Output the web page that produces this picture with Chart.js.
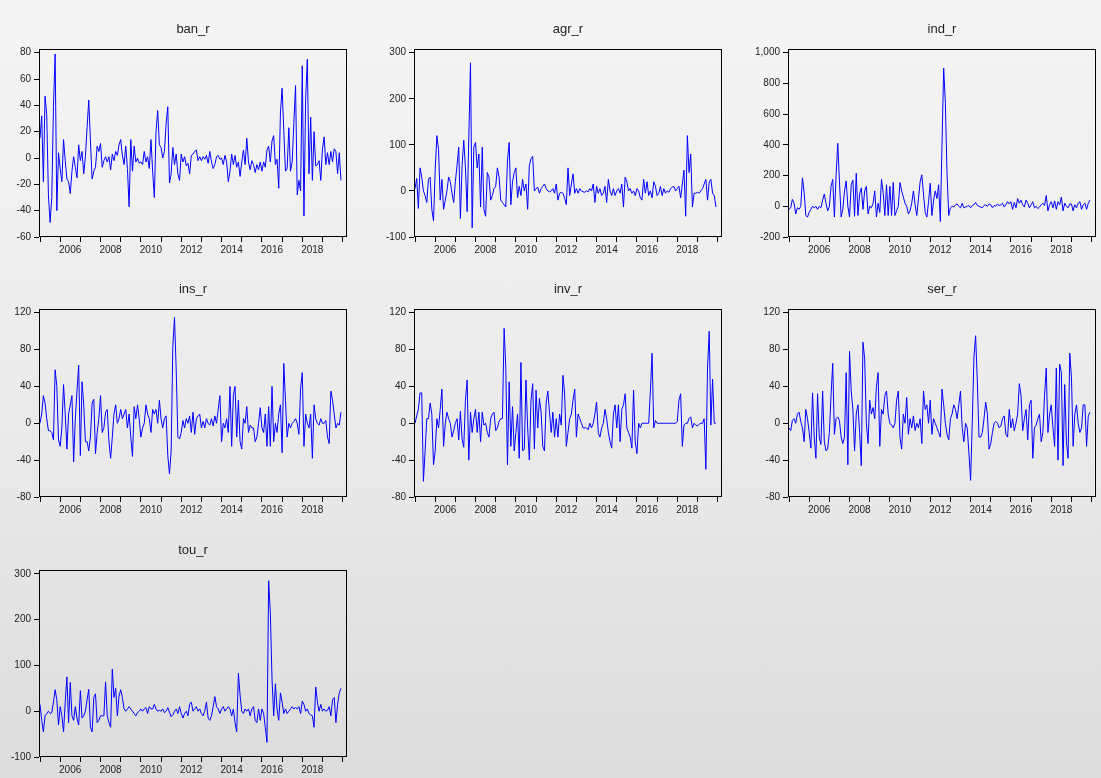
<!DOCTYPE html>
<html>
<head>
<meta charset="utf-8">
<script src="https://cdn.jsdelivr.net/npm/chart.js@4.4.1/dist/chart.umd.min.js"></script>
<style>
html,body{margin:0;padding:0;width:1101px;height:778px;overflow:hidden;
  background:linear-gradient(to bottom,#f5f5f5 0%,#e9e9e9 60%,#dcdcdc 100%);}
canvas{position:absolute;}
</style>
</head>
<body>
<script>
// ---------- data (monthly, 2005m01 .. 2019m12) ----------
const tickYears  = [2005,2006,2007,2008,2009,2010,2011,2012,2013,2014,2015,2016,2017,2018,2019,2020];
const labelYears = [2006,2008,2010,2012,2014,2016,2018];

const ban_r = [
 15,32,-18,47,33,-28,-49,-30,39,79,-40,4,
 -8,-18,14,-2,-16,-18,-27,-10,1,-7,-15,10,
 -2,5,-12,1,23,44,13,-16,-10,-7,9,5,
 11,-7,-2,1,-3,1,-9,3,-2,5,2,10,
 14,2,-5,9,-8,-37,14,-10,9,-3,0,-4,
 -3,-5,5,-3,1,-8,14,-10,-30,20,36,10,
 8,0,5,26,39,-19,-12,8,-5,3,-12,-17,
 3,-3,1,-6,-4,-12,2,3,5,6,-2,1,
 -2,1,-1,2,-4,5,-3,-8,-5,1,2,-1,
 0,-5,2,-3,-18,-10,3,-5,2,-7,-3,-14,
 -3,6,-5,15,-3,-9,-2,-5,-11,-5,-9,-3,
 -10,-3,-7,6,9,-3,13,17,-5,-1,-23,34,
 53,21,-10,-8,23,-10,-3,27,55,-28,-17,-25,
 70,-44,45,75,-12,31,-17,20,-6,-5,-2,-17,
 7,16,-5,4,-5,5,-3,7,5,-12,4,-17];

const agr_r = [
 5,27,-38,50,30,0,-10,-25,25,30,-40,-65,
 45,120,90,-20,25,-40,-20,0,30,20,-5,-25,
 20,55,95,-60,55,110,50,-45,115,278,-80,95,
 105,50,80,-35,95,-40,-55,40,30,-20,-10,5,
 10,50,30,-20,-25,-30,-35,65,105,-30,20,40,
 50,-15,10,-10,25,0,15,-40,55,70,75,0,
 5,8,-5,5,10,15,5,0,-2,0,5,-5,
 15,-20,-5,-3,-5,-15,-30,50,-10,15,37,-5,
 5,-5,5,0,-2,-3,0,-2,5,0,15,-25,
 10,-5,5,-10,-5,10,-25,25,0,-10,5,-10,
 0,5,-5,15,-35,30,20,0,5,-5,0,-10,
 5,0,-15,-20,25,-5,20,-10,0,-15,20,10,
 -10,-5,10,-10,5,-5,0,-3,5,8,10,0,
 5,10,-15,15,45,-55,120,40,80,-35,-5,-5,
 -3,-5,0,5,15,25,-20,20,25,-5,-10,-35];

const ind_r = [
 -20,-10,45,20,-50,-10,-20,0,185,90,-60,-70,
 -40,-20,0,-10,0,-20,0,-10,40,80,20,-30,
 0,130,175,-70,200,410,165,-70,-20,100,165,0,
 -70,140,170,-65,215,-60,80,120,-20,100,130,-50,
 0,-10,20,100,-70,20,-40,175,90,-60,140,-60,
 130,-60,155,-60,-30,0,155,100,60,20,0,-50,
 -30,20,100,10,-60,50,160,205,80,-40,-70,30,
 150,-60,40,100,50,140,-100,400,900,670,210,-60,
 -10,0,-5,10,15,0,-10,20,-10,-5,0,5,
 -10,5,10,25,5,0,-5,-10,5,10,0,15,
 10,-10,5,0,15,5,10,20,-5,10,30,15,
 30,-20,25,-10,50,20,40,10,-5,40,20,-10,
 10,30,-10,0,-15,-5,10,20,5,70,-30,10,
 30,-10,35,-20,30,10,60,-30,20,0,-10,15,
 15,-30,10,-10,20,30,-20,10,20,-20,20,40];

const ins_r = [
 0,10,30,22,5,-8,-8,-10,-18,58,40,-18,
 -25,-5,42,10,-28,10,20,30,-42,5,35,63,
 -35,45,20,-20,-20,-30,-15,22,26,-33,-10,5,
 30,-10,-5,12,15,-20,-38,-15,10,20,0,5,
 15,5,10,15,-5,10,-15,-36,18,5,20,5,
 -15,-5,0,20,10,5,-10,15,10,15,0,25,
 5,-5,5,8,-35,-55,-30,83,115,58,-15,-17,
 -10,3,-5,5,0,8,-10,12,-12,5,8,10,
 -5,2,-5,5,0,-2,5,-3,8,0,15,30,
 -20,0,-5,5,-10,40,-25,30,40,-15,25,-20,
 -28,5,0,18,-10,-2,-5,-5,-20,-15,0,17,
 -5,-10,10,-25,18,-25,40,-20,0,-10,10,20,
 -32,65,25,-15,0,-5,0,2,5,0,-12,38,
 55,-25,10,0,-5,10,-38,20,5,0,-2,5,
 0,0,3,-15,-22,35,25,10,-5,0,-2,12];

const inv_r = [
 0,8,15,33,33,-63,-30,5,5,22,10,-45,
 -30,5,-5,15,37,-25,0,12,5,0,-15,-8,
 0,5,-18,13,-17,-26,25,47,-40,12,-10,5,
 15,-10,12,-20,12,-2,0,-10,-15,5,10,12,
 -8,-5,2,5,5,103,60,-45,45,-25,18,-30,
 -10,10,-38,66,-30,-28,47,-5,-40,25,43,-28,
 36,-5,27,12,-25,-30,22,35,12,-10,12,-15,
 5,-15,10,-2,52,32,-25,-10,5,10,25,37,
 -15,10,5,0,-5,-5,-5,-7,0,-5,0,10,
 23,-10,-15,-5,0,15,5,-10,-20,-27,10,20,
 -5,20,-20,15,20,32,-5,-10,-15,-27,36,-20,
 -33,0,-5,0,0,0,0,0,35,76,-5,3,
 0,0,0,0,0,0,0,0,0,0,0,0,
 2,25,32,-25,-2,0,0,5,7,-5,0,-2,
 -3,-1,0,0,5,-50,60,100,-2,48,0,0];

const ser_r = [
 -5,-8,3,5,0,10,12,2,-5,-20,15,5,
 -10,-27,33,-15,-38,32,-15,-23,35,-20,-30,-28,
 -10,30,65,-12,5,7,3,-15,-22,-15,55,-45,
 78,35,15,-30,10,20,-10,-46,88,70,0,-22,
 25,10,17,5,40,55,-25,15,10,30,35,10,
 0,-2,-5,0,25,35,-15,-28,10,0,28,-12,
 5,-5,8,-8,0,-5,5,-22,35,15,20,0,
 25,-12,5,0,-5,-10,-15,37,20,0,-12,-18,
 5,10,20,15,5,20,35,-5,-20,0,-5,-32,
 -62,0,72,95,46,-15,-15,-10,5,23,10,-28,
 -22,-10,0,2,0,-5,-3,5,8,-12,-15,15,
 -5,5,-8,0,10,43,30,-8,5,15,-18,20,
 25,-38,-5,-2,5,10,-20,-10,30,60,-10,10,
 20,-5,-25,60,-40,64,55,-46,42,-20,-38,76,
 50,-25,10,20,0,-10,-5,20,20,-25,8,12];

const tou_r = [
 15,-20,-45,-10,-5,0,-5,-3,20,47,25,-30,
 10,-10,-45,20,75,-25,63,-10,-20,10,-15,-30,
 45,-15,-10,0,25,48,-35,-45,30,38,-25,-20,
 -10,-10,-10,64,-10,-25,-35,92,30,50,-10,33,
 47,30,5,0,5,10,5,0,-5,-10,-3,0,
 5,0,5,8,-5,10,5,5,15,5,0,2,
 0,5,-3,0,8,-2,-12,-8,0,5,-5,10,
 -5,-15,-5,0,-10,15,20,0,5,10,0,5,
 -5,-10,0,20,-15,-20,-10,10,32,10,5,-5,
 5,10,0,5,10,5,-10,5,-25,-45,83,35,
 0,-5,5,0,5,-10,5,10,-20,-25,5,-20,
 5,-5,-35,-68,285,215,70,-10,60,5,-20,40,
 20,-5,5,-5,0,5,10,5,8,5,10,-5,
 22,15,0,5,-5,-8,-10,-35,53,20,0,15,
 0,5,0,2,10,-10,25,30,-25,15,40,50];

const banTicks = [-60,-40,-20,0,20,40,60,80];
const agrTicks = [-100,0,100,200,300];
const indTicks = [-200,0,200,400,600,800,1000];
const insTicks = [-80,-40,0,40,80,120];
const invTicks = [-80,-40,0,40,80,120];
const serTicks = [-80,-40,0,40,80,120];
const touTicks = [-100,0,100,200,300];

// ---------- layout ----------
const FONT = 'Liberation Sans, Arial, sans-serif';
const panels = [
  {title:'ban_r', data:ban_r, ticks:banTicks, top:82.8,  plotLeft:39,  plotTop:49,  yW:39, h:188},
  {title:'agr_r', data:agr_r, ticks:agrTicks, top:308,   plotLeft:414, plotTop:49,  yW:39, h:188},
  {title:'ind_r', data:ind_r, ticks:indTicks, top:1024,  plotLeft:788, plotTop:49,  yW:43, h:188},
  {title:'ins_r', data:ins_r, ticks:insTicks, top:124,   plotLeft:39,  plotTop:309, yW:39, h:188},
  {title:'inv_r', data:inv_r, ticks:invTicks, top:124,   plotLeft:414, plotTop:309, yW:39, h:188},
  {title:'ser_r', data:ser_r, ticks:serTicks, top:124,   plotLeft:788, plotTop:309, yW:43, h:188},
  {title:'tou_r', data:tou_r, ticks:touTicks, top:308.5, plotLeft:39,  plotTop:570, yW:39, h:187}
];
const PLOT_W = 308, TITLE_H = 49, XAXIS_H = 25, RIGHT_PAD = 5;

const frameAndTitle = {
  id: 'frameAndTitle',
  afterDraw(chart, args, opts) {
    const {ctx, chartArea:a} = chart;
    ctx.save();
    ctx.strokeStyle = '#000';
    ctx.lineWidth = 1;
    ctx.strokeRect(Math.round(a.left) + 0.5, Math.round(a.top) + 0.5,
                   Math.round(a.right - a.left) - 1, Math.round(a.bottom - a.top) - 1);
    ctx.fillStyle = '#222';
    ctx.font = '13px ' + FONT;
    ctx.textAlign = 'center';
    ctx.textBaseline = 'middle';
    ctx.fillText(opts.text, (a.left + a.right) / 2, a.top - 20);
    ctx.restore();
  }
};

panels.forEach((p, k) => {
  const cv = document.createElement('canvas');
  const w = p.yW + PLOT_W + RIGHT_PAD;
  const h = TITLE_H + p.h + XAXIS_H;
  cv.width = w; cv.height = h;
  cv.style.left = (p.plotLeft - p.yW) + 'px';
  cv.style.top = (p.plotTop - TITLE_H) + 'px';
  cv.style.width = w + 'px'; cv.style.height = h + 'px';
  document.body.appendChild(cv);

  const pts = p.data.map((v, i) => ({x: i, y: v}));
  const yearTicks = tickYears.map(y => ({value: (y - 2005) * 12}));

  new Chart(cv, {
    type: 'line',
    data: { datasets: [{ data: pts, borderColor: '#0000ff', borderWidth: 1,
      pointRadius: 0, tension: 0, fill: false }] },
    plugins: [frameAndTitle],
    options: {
      responsive: false, animation: false, devicePixelRatio: 1,
      layout: { padding: { top: TITLE_H, right: RIGHT_PAD, left: 0, bottom: 0 } },
      plugins: { legend: {display:false}, tooltip: {enabled:false}, title: {display:false},
                 frameAndTitle: { text: p.title } },
      scales: {
        x: {
          type: 'linear', min: -0.6, max: 182.6,
          afterBuildTicks: s => { s.ticks = yearTicks.map(t => ({value: t.value})); },
          afterFit: s => { s.height = XAXIS_H; },
          border: { display: false },
          grid: { drawOnChartArea: false, drawTicks: true, tickLength: 5, color: '#000', tickColor: '#000' },
          ticks: {
            autoSkip: false, maxRotation: 0, minRotation: 0, padding: 2, labelOffset: 10,
            color: '#222', font: { family: FONT, size: 10 },
            callback: v => { const yr = 2005 + v / 12; return labelYears.includes(yr) ? String(yr) : ''; }
          }
        },
        y: {
          type: 'linear', min: p.ticks[0], max: p.top,
          afterBuildTicks: s => { s.ticks = p.ticks.map(v => ({value: v})); },
          afterFit: s => { s.width = p.yW; },
          border: { display: false },
          grid: { drawOnChartArea: false, drawTicks: true, tickLength: 5, color: '#000', tickColor: '#000' },
          ticks: { padding: 3, color: '#222', font: { family: FONT, size: 10 },
                   callback: v => v.toLocaleString('en-US') }
        }
      }
    }
  });
});
</script>
</body>
</html>
